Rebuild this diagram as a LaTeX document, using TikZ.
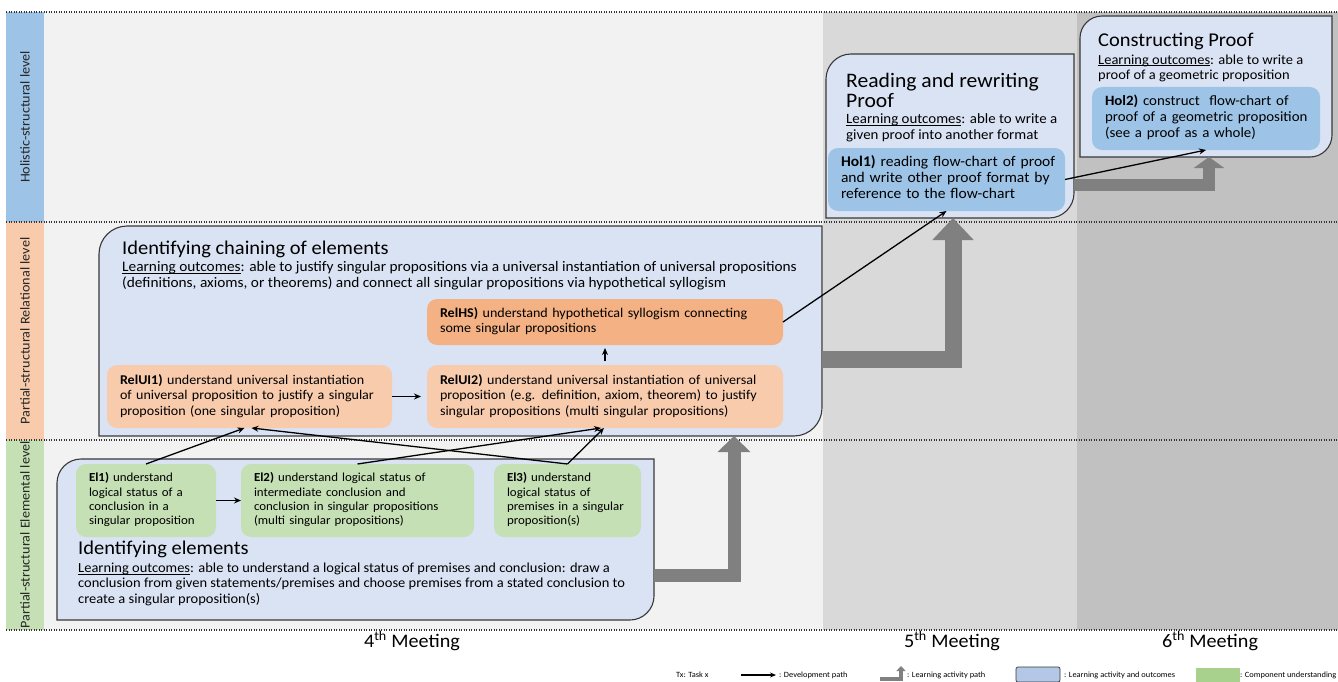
\documentclass[tikz,border=0pt]{standalone}
\usepackage{fontspec}
\setmainfont{Carlito}[FakeStretch=1.05]
\usetikzlibrary{arrows.meta}
\definecolor{bgA}{HTML}{F2F2F2}
\definecolor{bgB}{HTML}{D9D9D9}
\definecolor{bgC}{HTML}{C1C1C1}
\definecolor{lvlBlue}{HTML}{9DC3E6}
\definecolor{lvlOrange}{HTML}{F8CBAD}
\definecolor{lvlGreen}{HTML}{C5E0B4}
\definecolor{frameFill}{HTML}{DAE3F3}
\definecolor{frameLine}{HTML}{383838}
\definecolor{holFill}{HTML}{9DC3E6}
\definecolor{hsFill}{HTML}{F4B183}
\definecolor{uiFill}{HTML}{F8CBAD}
\definecolor{elFill}{HTML}{C5E0B4}
\definecolor{pathGray}{HTML}{808080}
\definecolor{legBlue}{HTML}{B4C7E7}
\definecolor{legGreen}{HTML}{A9D18E}
\newcommand\txtlines[1]{\begin{tabular}{@{}l@{}}#1\end{tabular}}
\newcommand\ulo[1]{\setbox0\hbox{#1}\rlap{\rule[-0.13em]{\wd0}{0.065em}}\box0}
\newcommand\mydiagframe[2]{%
  \path[bigframe] (#1.south west) -- ([yshift=-#2]#1.north west)
    .. controls ([yshift=-0.45*#2]#1.north west) and ([xshift=0.45*#2]#1.north west) .. ([xshift=#2]#1.north west)
    -- (#1.north east) -- ([yshift=#2]#1.south east)
    .. controls ([yshift=0.45*#2]#1.south east) and ([xshift=-0.45*#2]#1.south east) .. ([xshift=-#2]#1.south east)
    -- cycle;}
\begin{document}
\begin{tikzpicture}[x=1pt,y=-1pt,
  area/.style={anchor=north west,inner sep=0pt,outer sep=0pt},
  bigframe/.style={fill=frameFill,draw=frameLine,line width=1.1pt},
  inbox/.style={anchor=north west,rounded corners=10pt,inner xsep=13pt,inner ysep=0pt,outer sep=0pt,align=left},
  elbox/.style={inbox,fill=elFill,font=\fontsize{12.3}{14.3}\selectfont,minimum height=73pt},
  uibox/.style={inbox,fill=uiFill,font=\fontsize{13.4}{15.5}\selectfont,minimum height=63pt},
  hsbox/.style={inbox,fill=hsFill,font=\fontsize{13.4}{15.5}\selectfont,minimum height=46pt},
  holbox/.style={inbox,fill=holFill,font=\fontsize{14.8}{15.8}\selectfont,minimum height=63pt},
  ttl/.style={anchor=north west,inner sep=0pt,align=left,font=\fontsize{19.5}{20}\selectfont},
  lotext/.style={anchor=north west,inner sep=0pt,align=left},
  lvl/.style={rotate=90,inner sep=0pt,font=\fontsize{13.5}{15}\selectfont,text=black!85},
  meet/.style={inner sep=0pt,font=\fontsize{19.2}{21}\selectfont},
  leg/.style={anchor=west,inner sep=0pt,font=\fontsize{8}{9.5}\selectfont},
  dotline/.style={draw=black!80,line width=1.1pt,dash pattern=on 1.1pt off 1.4pt},
  dev/.style={draw=black,line width=1.3pt,-{Stealth[length=7pt,width=6pt]}},
]
\useasboundingbox (0,0) rectangle (1338,682);
% backgrounds
\fill[bgA] (44,12) rectangle (823,630);
\fill[bgB] (823,12) rectangle (1077,630);
\fill[bgC] (1077,12) rectangle (1338,630);
\fill[lvlBlue] (6,12) rectangle (44,222);
\fill[lvlOrange] (6,222) rectangle (44,440);
\fill[lvlGreen] (6,440) rectangle (44,630);
\node[lvl] (lh) at (25,117) {Holistic-structural level};
\node[lvl] (lr) at (25,331) {Partial-structural Relational level};
\node[lvl] (le) at (25,535) {Partial-structural Elemental level};
\draw[dotline] (6,12) -- (1338,12);
\draw[dotline] (6,222) -- (1338,222);
\draw[dotline] (6,440) -- (1338,440);
\draw[dotline] (6,630) -- (1338,630);

% frames
\node[area,minimum width=597pt,minimum height=161pt] (bot) at (57,459) {};
\node[area,minimum width=723pt,minimum height=210pt] (mid) at (99,226) {};
\node[area,minimum width=248pt,minimum height=164pt] (read) at (826,54) {};
\node[area,minimum width=252pt,minimum height=141pt] (cons) at (1080,16) {};
\mydiagframe{bot}{24pt}
\mydiagframe{mid}{28pt}
\mydiagframe{read}{25pt}
\mydiagframe{cons}{22pt}

% gray learning activity paths
\draw[pathGray,line width=13pt,line join=miter,-{Triangle[width=32pt,length=16pt]}]
  ([yshift=-36pt]bot.east) -| ([xshift=635pt]mid.south west);
\draw[pathGray,line width=17pt,line join=miter,-{Triangle[width=40pt,length=22pt]}]
  ([yshift=-28pt]mid.east) -| ([xshift=3pt]read.south);
\draw[pathGray,line width=12pt,line join=miter,-{Triangle[width=30pt,length=11pt]}]
  ([yshift=-49pt]read.east) -| ([xshift=3pt]cons.south);

% frame texts
\node[ttl,font=\fontsize{20.6}{20}\selectfont] (ttlread) at (846,72.6) {\txtlines{Reading and rewriting\\Proof}};
\node[lotext,font=\fontsize{14.2}{15.5}\selectfont] (loread) at (846,112.9)
  {\txtlines{\ulo{Learning outcomes}: able to write a\\given proof into another format}};
\node[ttl] (ttlcons) at (1098,32.2) {\txtlines{Constructing Proof}};
\node[lotext,font=\fontsize{13.8}{15}\selectfont] (locons) at (1098,53.4)
  {\txtlines{\ulo{Learning outcomes}: able to write a\\proof of a geometric proposition}};
\node[ttl] (ttlmid) at (122,240.2) {\txtlines{Identifying chaining of elements}};
\node[lotext,font=\fontsize{14.6}{16}\selectfont] (lomid) at (122,260.5)
  {\txtlines{\ulo{Learning outcomes}: able to justify singular propositions via a universal instantiation of universal propositions\\(definitions, axioms, or theorems) and connect all singular propositions via hypothetical syllogism}};
\node[ttl] (ttlbot) at (78,540.2) {\txtlines{Identifying elements}};
\node[lotext,font=\fontsize{13.8}{15.2}\selectfont] (lobot) at (78,561.8)
  {\txtlines{\ulo{Learning outcomes}: able to understand a logical status of premises and conclusion: draw a\\conclusion from given statements/premises and choose premises from a stated conclusion to\\create a singular proposition(s)}};

% inner boxes
\node[holbox,minimum width=237pt,text width=211pt] (hol1) at (828,148)
  {\txtlines{\textbf{Hol1)} reading flow-chart of proof\\and write other proof format by\\reference to the flow-chart}};
\node[holbox,minimum width=228pt,text width=202pt,font=\fontsize{14.2}{15.8}\selectfont] (hol2) at (1092,87)
  {\txtlines{\textbf{Hol2)} construct\ \ flow-chart of\\proof of a geometric proposition\\(see a proof as a whole)}};
\node[hsbox,minimum width=356pt,text width=330pt] (relhs) at (427,299)
  {\txtlines{\textbf{RelHS)} understand hypothetical syllogism connecting\\some singular propositions}};
\node[uibox,minimum width=285pt,text width=259pt] (relui1) at (107,365)
  {\txtlines{\textbf{RelUI1)} understand universal instantiation\\of universal proposition to justify a singular\\proposition (one singular proposition)}};
\node[uibox,minimum width=356pt,text width=330pt] (relui2) at (427,365)
  {\txtlines{\textbf{RelUI2)} understand universal instantiation of universal\\proposition (e.g. definition, axiom, theorem) to justify\\singular propositions (multi singular propositions)}};
\node[elbox,minimum width=140pt,text width=114pt] (el1) at (76,464)
  {\txtlines{\textbf{El1)} understand\\logical status of a\\conclusion in a\\singular proposition}};
\node[elbox,minimum width=233pt,text width=207pt] (el2) at (241,464)
  {\txtlines{\textbf{El2)} understand logical status of\\intermediate conclusion and\\conclusion in singular propositions\\(multi singular propositions)}};
\node[elbox,minimum width=147pt,text width=121pt] (el3) at (494,464)
  {\txtlines{\textbf{El3)} understand\\logical status of\\premises in a singular\\proposition(s)}};

% development paths
\draw[dev] (el1.east) -- (el2.west);
\draw[dev] (el1.north) -- ([xshift=-5pt]relui1.south);
\draw[dev] (el3.north) -- ([xshift=2pt]relui1.south);
\draw[dev] (el2.north) -- ([xshift=-4pt]relui2.south);
\draw[dev] (el3.north) -- ([xshift=-1pt]relui2.south);
\draw[dev,shorten >=6pt] (relui1.east) -- (relui2.west);
\draw[dev,shorten >=3pt,shorten <=4pt] (relui2.north) -- (relhs.south);
\draw[dev] (relhs.east) -- (hol1.south);
\draw[dev] (hol1.east) -- (hol2.south);

% meetings
\node[meet] (m4) at (412,641) {4\textsuperscript{th} Meeting};
\node[meet] (m5) at (952,641) {5\textsuperscript{th} Meeting};
\node[meet] (m6) at (1210,641) {6\textsuperscript{th} Meeting};

% legend
\node[leg] (lg1) at (676,675) {Tx: Task x};
\coordinate (lga) at (741,675);
\coordinate (lgb) at (776,675);
\draw[draw=black,line width=1.2pt,-{Stealth[length=6pt,width=5pt]}] (lga) -- (lgb);
\node[leg] (lg2) at (779,675) {: Development path};
\coordinate (lgc) at (880,679);
\coordinate (lgd) at (901,666);
\draw[pathGray,line width=3.5pt,line join=miter,-{Triangle[width=9pt,length=5pt]}] (lgc) -| (lgd);
\node[leg] (lg3) at (907,675) {: Learning activity path};
\node[area,minimum width=44pt,minimum height=15pt] (lgbox) at (1016,667) {};
\path[fill=legBlue,draw=frameLine,line width=0.7pt,rounded corners=2pt] (lgbox.south west) rectangle (lgbox.north east);
\node[leg] (lg4) at (1064,675) {: Learning activity and outcomes};
\node[area,minimum width=44pt,minimum height=14pt,fill=legGreen] (lggreen) at (1196,668) {};
\node[leg] (lg5) at (1240,675) {: Component understanding};
\end{tikzpicture}
\end{document}
